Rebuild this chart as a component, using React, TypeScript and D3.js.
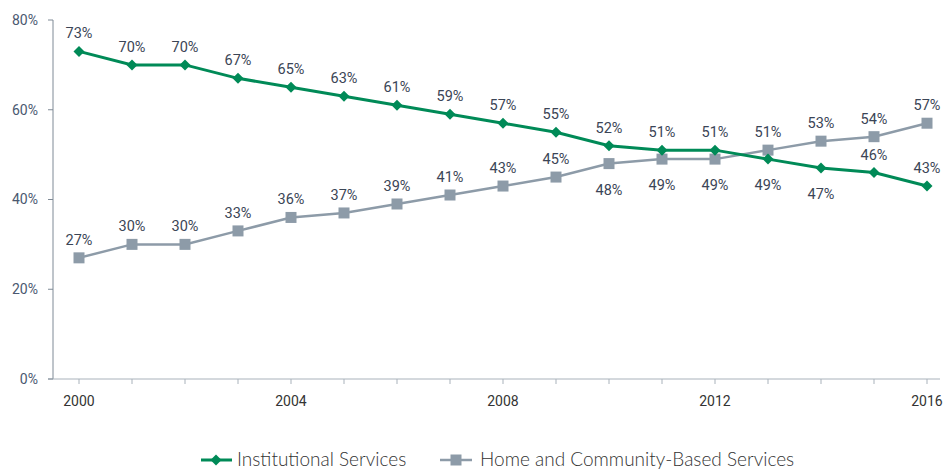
import React from "react";
import * as d3 from "d3";

const years = [2000, 2001, 2002, 2003, 2004, 2005, 2006, 2007, 2008, 2009, 2010, 2011, 2012, 2013, 2014, 2015, 2016];
const institutional = [73, 70, 70, 67, 65, 63, 61, 59, 57, 55, 52, 51, 51, 49, 47, 46, 43];
const hcbs = [27, 30, 30, 33, 36, 37, 39, 41, 43, 45, 48, 49, 49, 51, 53, 54, 57];
const yTicks = [0, 20, 40, 60, 80];
const xTickLabels = [2000, 2004, 2008, 2012, 2016];
const instBelow = [2013, 2014];
const hcbsBelow = [2010, 2011, 2012];

const GREEN = "#008a57";
const GREY = "#8d9ba8";
const LABEL = "#3b4556";

export default function App() {
  const W = 944, H = 469;
  const x = d3.scaleLinear().domain([2000, 2016]).range([79, 927]);
  const y = d3.scaleLinear().domain([0, 80]).range([379, 20]);
  const line = d3.line<[number, number]>().x(d => x(d[0])).y(d => y(d[1]));
  const instPts = years.map((yr, i) => [yr, institutional[i]] as [number, number]);
  const hcbsPts = years.map((yr, i) => [yr, hcbs[i]] as [number, number]);
  const diamond = (cx: number, cy: number, r: number) => `M${cx},${cy - r}L${cx + r},${cy}L${cx},${cy + r}L${cx - r},${cy}Z`;
  return (
    <svg width={W} height={H} style={{ position: "absolute", left: 0, top: 0, background: "#fff" }}>
      {/* axes */}
      <line x1={53} x2={53} y1={20} y2={379} stroke="#7f8a96" strokeWidth={1} />
      <line x1={48} x2={940} y1={379} y2={379} stroke="#a9b2bb" strokeWidth={1} />
      {yTicks.map(t => (
        <g key={t}>
          <line x1={48} x2={53} y1={y(t)} y2={y(t)} stroke="#7f8a96" />
          <text x={38} y={y(t)} dy="0.35em" textAnchor="end" fontFamily="Roboto, Arial, sans-serif" fontSize={14} fill="#4a5870">{t}%</text>
        </g>
      ))}
      {years.map(yr => (
        <line key={yr} x1={x(yr)} x2={x(yr)} y1={379} y2={384} stroke="#a9b2bb" />
      ))}
      {xTickLabels.map(yr => (
        <text key={yr} x={x(yr)} y={401} dy="0.35em" textAnchor="middle" fontFamily="Roboto, Arial, sans-serif" fontSize={14} fill="#333">{yr}</text>
      ))}
      {/* lines */}
      <path d={line(hcbsPts) || ""} fill="none" stroke={GREY} strokeWidth={2.5} />
      <path d={line(instPts) || ""} fill="none" stroke={GREEN} strokeWidth={3} />
      {hcbsPts.map(([yr, v]) => (
        <rect key={yr} x={x(yr) - 5.5} y={y(v) - 5.5} width={11} height={11} fill={GREY} />
      ))}
      {instPts.map(([yr, v]) => (
        <path key={yr} d={diamond(x(yr), y(v), 5.5)} fill={GREEN} />
      ))}
      {/* labels */}
      {instPts.map(([yr, v]) => {
        const below = instBelow.includes(yr);
        return (
          <text key={"i" + yr} x={x(yr)} y={below ? y(v) + 31 : y(v) - 13} textAnchor="middle" fontFamily="Roboto, Arial, sans-serif" fontSize={14.5} fill={LABEL}>{v}%</text>
        );
      })}
      {hcbsPts.map(([yr, v]) => {
        const below = hcbsBelow.includes(yr);
        return (
          <text key={"h" + yr} x={x(yr)} y={below ? y(v) + 31 : y(v) - 13} textAnchor="middle" fontFamily="Roboto, Arial, sans-serif" fontSize={14.5} fill={LABEL}>{v}%</text>
        );
      })}
      {/* legend */}
      <line x1={201} x2={232} y1={460} y2={460} stroke={GREEN} strokeWidth={3} />
      <path d={diamond(216, 460, 5.5)} fill={GREEN} />
      <text x={237} y={460} dy="0.33em" fontFamily="Lato, sans-serif" fontWeight={300} fontSize={19} fill="#333">Institutional Services</text>
      <line x1={440} x2={472} y1={460} y2={460} stroke={GREY} strokeWidth={2.5} />
      <rect x={450.5} y={454.5} width={11} height={11} fill={GREY} />
      <text x={480} y={460} dy="0.33em" fontFamily="Lato, sans-serif" fontWeight={300} fontSize={19} fill="#333">Home and Community-Based Services</text>
    </svg>
  );
}
